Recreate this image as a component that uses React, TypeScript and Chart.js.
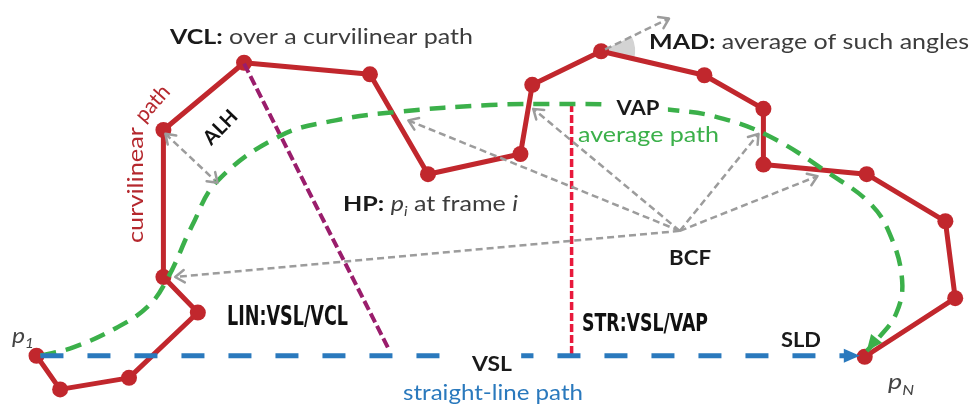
import React, { useEffect, useRef } from "react";
import { Chart, registerables } from "chart.js";
Chart.register(...registerables);

type P = [number, number];

// Diagram coordinates (x to the right, y downward)
const curvilinearPath: P[] = [
  [29, 362], [53, 397], [123, 385], [193, 317], [158, 280], [158, 127],
  [240, 57], [368, 69], [427, 173], [521, 152], [533, 80], [603, 45],
  [708, 70], [768, 105], [768, 163], [873, 173], [953, 222], [963, 302], [871, 363],
];
const averagePath: P[] = [
  [33, 362], [67, 353], [110, 333], [143, 310], [163, 280], [187, 227], [213, 180],
  [277, 133], [333, 117], [397, 108], [490, 101], [560, 100], [620, 101], [673, 106],
  [719, 113], [773, 133], [836, 173], [876, 203], [896, 234], [909, 283], [903, 318],
  [884, 345], [873, 357],
];
const straightLinePath: P[] = [[33, 362], [866, 362]];
const linSegment: P[] = [[240, 58], [388, 357]];
const strSegment: P[] = [[573, 100], [573, 362]];
const alhArrow: P[] = [[160, 131], [213, 182]];
const bcfOrigin: P = [683, 232];
const bcfTargets: P[] = [[407, 117], [534, 105], [763, 131], [823, 175], [170, 280]];
const madArrow: P[] = [[607, 43], [672, 11]];

const RED = "#c1272d";
const GREEN = "#3bb04a";
const BLUE = "#2a79bd";
const PURPLE = "#9a1d6c";
const STRRED = "#e8193c";
const GRAY = "#9c9c9c";

const toXY = (pts: P[]) => pts.map(([x, y]) => ({ x, y }));

type Seg = { t: string; b?: boolean; i?: boolean; sub?: boolean; c?: string };
type TOpts = {
  x: number; y: number; size: number; w?: number; align?: "left" | "center";
  rot?: number; family?: string; bg?: boolean; color?: string;
};

function rich(ctx: CanvasRenderingContext2D, segs: Seg[], o: TOpts) {
  ctx.save();
  ctx.translate(o.x, o.y);
  if (o.rot) ctx.rotate(o.rot);
  const fam = o.family || "Lato, 'Open Sans', sans-serif";
  const font = (s: Seg) =>
    `${s.i ? "italic " : ""}${s.b ? "bold " : ""}${s.sub ? o.size * 0.62 : o.size}px ${fam}`;
  let total = 0;
  const ws = segs.map((s) => {
    ctx.font = font(s);
    const m = ctx.measureText(s.t).width;
    total += m;
    return m;
  });
  const sx = o.w ? o.w / total : 1;
  ctx.scale(sx, 1);
  let cx = o.align === "center" ? -total / 2 : 0;
  if (o.bg) {
    ctx.fillStyle = "#fff";
    ctx.fillRect(cx - 8, -o.size * 0.6, total + 16, o.size * 1.2);
  }
  ctx.textBaseline = "alphabetic";
  segs.forEach((s, k) => {
    ctx.font = font(s);
    ctx.fillStyle = s.c || o.color || (s.b ? "#1a1a1a" : "#3d3d3d");
    ctx.fillText(s.t, cx, o.size * 0.36 + (s.sub ? o.size * 0.28 : 0));
    cx += ws[k];
  });
  ctx.restore();
}

function App() {
  const ref = useRef<HTMLCanvasElement | null>(null);
  useEffect(() => {
    const canvas = ref.current;
    if (!canvas) return;
    const grayArrows: P[][] = [alhArrow, madArrow, ...bcfTargets.map((t) => [bcfOrigin, t] as P[])];

    const line = (pts: P[], color: string, width: number, dash: number[], order: number, extra: any = {}) => ({
      data: toXY(pts),
      showLine: true,
      borderColor: color,
      backgroundColor: color,
      borderWidth: width,
      borderDash: dash,
      pointRadius: 0,
      order,
      clip: false,
      ...extra,
    });

    const overlay = {
      id: "overlay",
      beforeDatasetsDraw(chart: any) {
        const { ctx, scales } = chart;
        const px = (p: P) => [scales.x.getPixelForValue(p[0]), scales.y.getPixelForValue(p[1])];
        const v = px(curvilinearPath[11]);
        const a = px(madArrow[1]);
        const n = px(curvilinearPath[12]);
        const a1 = Math.atan2(a[1] - v[1], a[0] - v[0]);
        const a2 = Math.atan2(n[1] - v[1], n[0] - v[0]);
        ctx.save();
        ctx.fillStyle = "#d3d3d3";
        ctx.beginPath();
        ctx.moveTo(v[0], v[1]);
        ctx.arc(v[0], v[1], 34, a1, a2);
        ctx.closePath();
        ctx.fill();
        ctx.restore();
      },
      afterDatasetsDraw(chart: any) {
        const { ctx, scales } = chart;
        const px = (p: P) => [scales.x.getPixelForValue(p[0]), scales.y.getPixelForValue(p[1])];
        const chevron = (from: P, to: P) => {
          const f = px(from), t = px(to);
          const ang = Math.atan2(t[1] - f[1], t[0] - f[0]);
          ctx.save();
          ctx.strokeStyle = GRAY;
          ctx.lineWidth = 2.5;
          ctx.lineCap = "round";
          ctx.lineJoin = "round";
          ctx.beginPath();
          ctx.moveTo(t[0] - 11 * Math.cos(ang - 0.6), t[1] - 11 * Math.sin(ang - 0.6));
          ctx.lineTo(t[0], t[1]);
          ctx.lineTo(t[0] - 11 * Math.cos(ang + 0.6), t[1] - 11 * Math.sin(ang + 0.6));
          ctx.stroke();
          ctx.restore();
        };
        const filled = (from: P, to: P, len: number, hw: number, color: string) => {
          const f = px(from), t = px(to);
          const ang = Math.atan2(t[1] - f[1], t[0] - f[0]);
          const bx = t[0] - len * Math.cos(ang), by = t[1] - len * Math.sin(ang);
          ctx.save();
          ctx.fillStyle = color;
          ctx.beginPath();
          ctx.moveTo(t[0], t[1]);
          ctx.lineTo(bx + hw * Math.sin(ang), by - hw * Math.cos(ang));
          ctx.lineTo(bx - hw * Math.sin(ang), by + hw * Math.cos(ang));
          ctx.closePath();
          ctx.fill();
          ctx.restore();
        };
        grayArrows.forEach((s) => chevron(s[0], s[1]));
        chevron(alhArrow[1], alhArrow[0]);
        filled(straightLinePath[0], straightLinePath[1], 16, 7, BLUE);
        const g = averagePath;
        filled(g[g.length - 3], g[g.length - 1], 16, 7, GREEN);

        // Labels
        rich(ctx, [{ t: "VCL:", b: true }, { t: " over a curvilinear path" }], { x: 170, y: 36, size: 21, w: 303 });
        rich(ctx, [{ t: "MAD:", b: true }, { t: " average of such angles" }], { x: 649, y: 41, size: 21, w: 320 });
        rich(ctx, [{ t: "HP:", b: true }, { t: " " }, { t: "p", i: true }, { t: "i", i: true, sub: true }, { t: " at frame " }, { t: "i", i: true }], { x: 343, y: 203, size: 21, w: 175 });
        rich(ctx, [{ t: "VAP", b: true }], { x: 638, y: 107, size: 21, w: 43, align: "center", bg: true });
        rich(ctx, [{ t: "average path" }], { x: 578, y: 134, size: 21, w: 141, color: GREEN });
        rich(ctx, [{ t: "BCF", b: true }], { x: 669, y: 258, size: 20, w: 42 });
        rich(ctx, [{ t: "VSL", b: true }], { x: 492, y: 364, size: 20, w: 40, align: "center", bg: true });
        rich(ctx, [{ t: "straight-line path" }], { x: 403, y: 392, size: 21, w: 180, color: BLUE });
        rich(ctx, [{ t: "SLD", b: true }], { x: 781, y: 340, size: 20, w: 40 });
        const narrow = "'Liberation Sans Narrow', 'DejaVu Sans Condensed', 'DejaVu Sans', sans-serif";
        rich(ctx, [{ t: "LIN:VSL/VCL", b: true }], { x: 227, y: 315, size: 27, w: 121, family: narrow, color: "#111" });
        rich(ctx, [{ t: "STR:VSL/VAP", b: true }], { x: 582, y: 322, size: 25, w: 126, family: narrow, color: "#111" });
        rich(ctx, [{ t: "p", i: true }, { t: "1", i: true, sub: true }], { x: 12, y: 335, size: 21, w: 22, color: "#444" });
        rich(ctx, [{ t: "p", i: true }, { t: "N", i: true, sub: true }], { x: 888, y: 381, size: 22, w: 26, color: "#444" });
        rich(ctx, [{ t: "curvilinear" }], { x: 135, y: 185, size: 21, w: 116, align: "center", rot: -Math.PI / 2, color: "#b5282e" });
        rich(ctx, [{ t: "path" }], { x: 152, y: 103, size: 21, align: "center", rot: -0.85, color: "#b5282e" });
        rich(ctx, [{ t: "ALH", b: true }], { x: 220, y: 127, size: 20, align: "center", rot: -0.8, color: "#111" });
      },
    };

    const chart = new Chart(canvas, {
      type: "scatter",
      data: {
        datasets: [
          line(straightLinePath.map((p, k) => (k === 1 ? [p[0] - 12, p[1]] as P : p)), BLUE, 5, [23, 24], 2),
          line(averagePath, GREEN, 4.5, [16, 10], 3, { tension: 0.4 }),
          ...grayArrows.map((s) => line(s, GRAY, 2.5, [7, 4], 5)),
          line(linSegment, PURPLE, 4, [10, 4], 6),
          line(strSegment, STRRED, 3.5, [8, 3], 6),
          line(curvilinearPath, RED, 5, [], 10, {
            pointRadius: 8,
            pointBackgroundColor: RED,
            pointBorderWidth: 0,
            borderJoinStyle: "round",
          }),
        ],
      },
      options: {
        responsive: false,
        animation: false,
        events: [],
        layout: { padding: 0 },
        plugins: { legend: { display: false }, tooltip: { enabled: false } },
        scales: {
          x: { type: "linear", min: 0, max: 976, display: false },
          y: { type: "linear", min: 0, max: 407, reverse: true, display: false },
        },
      },
      plugins: [overlay],
    } as any);
    return () => chart.destroy();
  }, []);

  return (
    <div style={{ position: "absolute", left: 0, top: 0, width: 976, height: 407, background: "#fff" }}>
      <canvas ref={ref} width={976} height={407} style={{ display: "block" }} />
    </div>
  );
}

export default App;
